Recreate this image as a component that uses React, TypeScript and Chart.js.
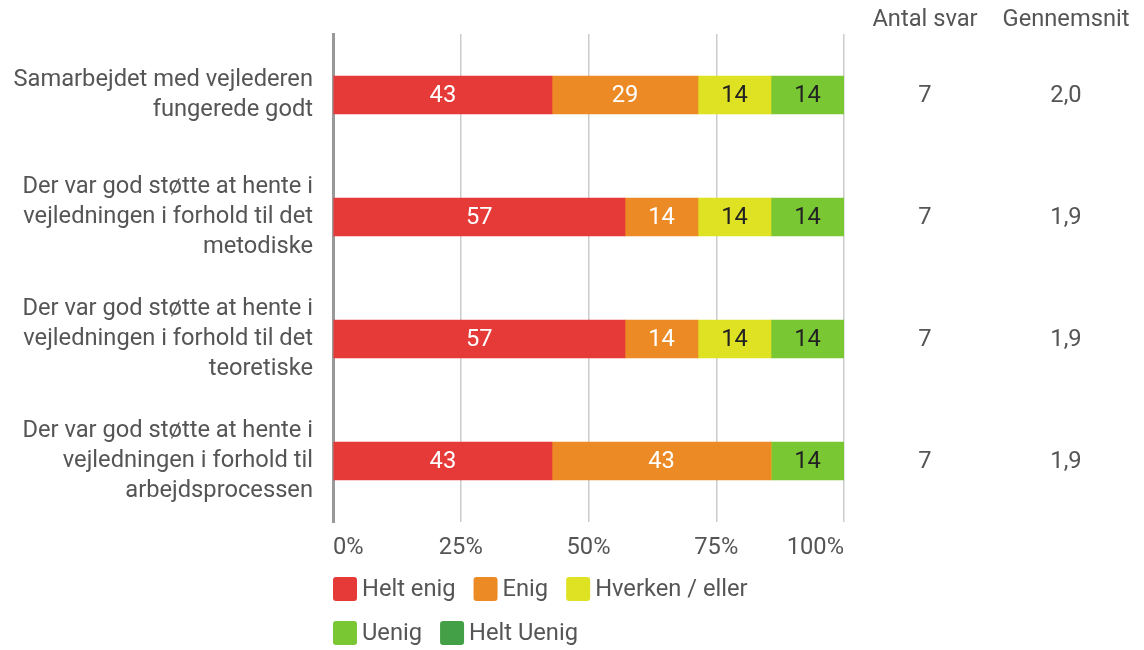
import React, { useEffect, useRef } from "react";
import { Chart, registerables } from "chart.js";

Chart.register(...registerables);

const categories: string[][] = [
  ["Samarbejdet med vejlederen", "fungerede godt"],
  ["Der var god støtte at hente i", "vejledningen i forhold til det", "metodiske"],
  ["Der var god støtte at hente i", "vejledningen i forhold til det", "teoretiske"],
  ["Der var god støtte at hente i", "vejledningen i forhold til", "arbejdsprocessen"],
];

const seriesNames = ["Helt enig", "Enig", "Hverken / eller", "Uenig", "Helt Uenig"];
const heltEnig = [42.86, 57.14, 57.14, 42.86];
const enig = [28.57, 14.29, 14.29, 42.86];
const hverken = [14.29, 14.29, 14.29, 0];
const uenig = [14.29, 14.29, 14.29, 14.29];
const heltUenig = [0, 0, 0, 0];

const antalSvar = [7, 7, 7, 7];
const gennemsnit = [2.0, 1.9, 1.9, 1.9];
const columnHeaders = ["Antal svar", "Gennemsnit"];

const xTicks = [0, 25, 50, 75, 100];

const colors = ["#e53a37", "#ec8b26", "#dfe123", "#79c833", "#43a047"];
const labelColors = ["#ffffff", "#ffffff", "#222222", "#222222", "#ffffff"];
const FONT = "Roboto";
const FS = 23.7;
const TEXT = "#555555";

export default function App() {
  const ref = useRef<HTMLCanvasElement | null>(null);

  useEffect(() => {
    if (!ref.current) return;
    const series = [heltEnig, enig, hverken, uenig, heltUenig];

    const dataLabels = {
      id: "dataLabels",
      afterDatasetsDraw(chart: any) {
        const ctx = chart.ctx;
        ctx.save();
        ctx.font = `${FS}px ${FONT}`;
        ctx.textAlign = "center";
        ctx.textBaseline = "middle";
        chart.data.datasets.forEach((ds: any, di: number) => {
          const meta = chart.getDatasetMeta(di);
          meta.data.forEach((bar: any, i: number) => {
            const v = ds.data[i];
            if (!v) return;
            const cx = (bar.x + bar.base) / 2;
            ctx.fillStyle = labelColors[di];
            ctx.fillText(String(Math.round(v)), cx, bar.y + 1);
          });
        });
        ctx.restore();
      },
    };

    const sideColumns = {
      id: "sideColumns",
      afterDraw(chart: any) {
        const ctx = chart.ctx;
        const y = chart.scales.y;
        const xs = [925, 1066];
        ctx.save();
        ctx.font = `${FS}px ${FONT}`;
        ctx.textAlign = "center";
        ctx.textBaseline = "middle";
        ctx.fillStyle = TEXT;
        columnHeaders.forEach((h, k) => ctx.fillText(h, xs[k], 20));
        categories.forEach((_, i) => {
          const py = y.getPixelForValue(i) + 1;
          ctx.fillText(String(antalSvar[i]), xs[0], py);
          ctx.fillText(gennemsnit[i].toFixed(1).replace(".", ","), xs[1], py);
        });
        ctx.restore();
      },
    };

    const customLegend = {
      id: "customLegend",
      afterDraw(chart: any) {
        const ctx = chart.ctx;
        const area = chart.chartArea;
        const rows = [[0, 1, 2], [3, 4]];
        const rowY = [area.bottom + 67, area.bottom + 111];
        ctx.save();
        ctx.font = `${FS}px ${FONT}`;
        ctx.textBaseline = "middle";
        ctx.textAlign = "left";
        rows.forEach((row, r) => {
          let x = area.left;
          const cy = rowY[r];
          row.forEach((di) => {
            const ds = chart.data.datasets[di];
            ctx.fillStyle = ds.backgroundColor;
            ctx.beginPath();
            (ctx as any).roundRect(x, cy - 12, 24, 24, 3);
            ctx.fill();
            x += 29;
            ctx.fillStyle = TEXT;
            ctx.fillText(ds.label, x, cy + 1);
            x += ctx.measureText(ds.label).width + 18;
          });
        });
        ctx.restore();
      },
    };

    const chart = new Chart(ref.current, {
      type: "bar",
      data: {
        labels: categories,
        datasets: series.map((d, i) => ({
          label: seriesNames[i],
          data: d,
          backgroundColor: colors[i],
          borderWidth: 0,
          barThickness: 38,
        })),
      },
      options: {
        indexAxis: "y",
        responsive: false,
        maintainAspectRatio: false,
        animation: false,
        layout: { padding: { top: 34, right: 300, left: 0, bottom: 0 } },
        plugins: {
          legend: { display: false },
          tooltip: { enabled: false },
          title: { display: false },
        },
        scales: {
          x: {
            stacked: true,
            min: 0,
            max: 100,
            afterFit(scale: any) {
              scale.height = 128;
              scale.paddingLeft = 0;
              scale.paddingRight = 0;
            },
            afterBuildTicks(scale: any) {
              scale.ticks = xTicks.map((v) => ({ value: v }));
            },
            ticks: {
              align: "inner",
              padding: 12,
              color: TEXT,
              font: { family: FONT, size: FS },
              callback: (v: any) => `${v}%`,
            },
            grid: { color: "#cccccc", lineWidth: 1.5, drawTicks: false },
            border: { display: false },
          },
          y: {
            stacked: true,
            afterFit(scale: any) {
              scale.width = 333;
              scale.paddingTop = 0;
              scale.paddingBottom = 0;
            },
            ticks: {
              padding: 20,
              color: TEXT,
              font: { family: FONT, size: FS, lineHeight: 1.25 },
            },
            grid: { display: false, drawTicks: false },
            border: { display: true, color: "#999999", width: 3 },
          },
        },
      },
      plugins: [dataLabels, sideColumns, customLegend],
    } as any);

    return () => chart.destroy();
  }, []);

  return (
    <div style={{ position: "absolute", left: 0, top: 0, width: 1144, height: 650, background: "#fff" }}>
      <canvas ref={ref} width={1144} height={650} style={{ display: "block", width: 1144, height: 650 }} />
    </div>
  );
}
